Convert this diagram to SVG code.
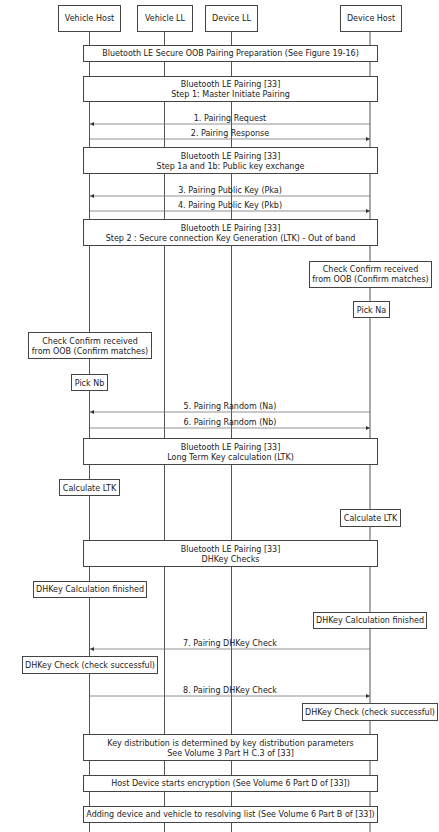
<svg xmlns="http://www.w3.org/2000/svg" width="439" height="832" viewBox="0 0 439 832">
<defs>
<marker id="ah" viewBox="0 0 6 6" refX="6" refY="3" markerWidth="4" markerHeight="4" orient="auto" markerUnits="userSpaceOnUse">
<path d="M0,0 L6,3 L0,6 z" fill="#333"/>
</marker>
<style>
text{font-family:"DejaVu Sans","Verdana",sans-serif;font-size:8px;fill:#222;text-anchor:middle;dominant-baseline:central}
.box{fill:#fff;stroke:#444;stroke-width:1}
.life{stroke:#555;stroke-width:1;fill:none}
.msg{stroke:#777;stroke-width:0.8;fill:none;marker-end:url(#ah)}
</style>
</defs>
<rect width="439" height="832" fill="#fff"/>
<g id="connectors">
<line class="life" x1="89.5" y1="31" x2="89.5" y2="832"/>
<line class="life" x1="164.5" y1="31" x2="164.5" y2="832"/>
<line class="life" x1="231.5" y1="31" x2="231.5" y2="832"/>
<line class="life" x1="370" y1="31" x2="370" y2="832"/>
<line class="msg" x1="370" y1="124" x2="90" y2="124"/>
<line class="msg" x1="90" y1="139" x2="370" y2="139"/>
<line class="msg" x1="370" y1="196" x2="90" y2="196"/>
<line class="msg" x1="90" y1="211" x2="370" y2="211"/>
<line class="msg" x1="370" y1="412" x2="90" y2="412"/>
<line class="msg" x1="90" y1="428" x2="370" y2="428"/>
<line class="msg" x1="370" y1="649" x2="90" y2="649"/>
<line class="msg" x1="90" y1="696" x2="370" y2="696"/>
<text x="230" y="118">1. Pairing Request</text>
<text x="230" y="133">2. Pairing Response</text>
<text x="230" y="190">3. Pairing Public Key (Pka)</text>
<text x="230" y="205">4. Pairing Public Key (Pkb)</text>
<text x="230" y="406">5. Pairing Random (Na)</text>
<text x="230" y="422">6. Pairing Random (Nb)</text>
<text x="230" y="643">7. Pairing DHKey Check</text>
<text x="230" y="690">8. Pairing DHKey Check</text>
</g>
<g id="vehicle-host"><rect class="box" x="58.5" y="5.5" width="62" height="26"/><text x="89.5" y="18">Vehicle Host</text></g>
<g id="vehicle-ll"><rect class="box" x="137.5" y="5.5" width="55" height="26"/><text x="165" y="18">Vehicle LL</text></g>
<g id="device-ll"><rect class="box" x="205.5" y="5.5" width="52" height="26"/><text x="231.5" y="18">Device LL</text></g>
<g id="device-host"><rect class="box" x="340.5" y="5.5" width="61" height="26"/><text x="371" y="18">Device Host</text></g>
<g id="oob-prep"><rect class="box" x="83.5" y="45.5" width="294" height="16"/><text x="230.5" y="53.5">Bluetooth LE Secure OOB Pairing Preparation (See Figure 19-16)</text></g>
<g id="step1"><rect class="box" x="83.5" y="76.5" width="294" height="25"/><text x="230.5" y="84">Bluetooth LE Pairing [33]</text><text x="230.5" y="94">Step 1: Master Initiate Pairing</text></g>
<g id="step1ab"><rect class="box" x="83.5" y="147.5" width="294" height="26"/><text x="230.5" y="156">Bluetooth LE Pairing [33]</text><text x="230.5" y="166">Step 1a and 1b: Public key exchange</text></g>
<g id="step2"><rect class="box" x="83.5" y="219.5" width="294" height="26"/><text x="230.5" y="228">Bluetooth LE Pairing [33]</text><text x="230.5" y="238">Step 2 : Secure connection Key Generation (LTK) - Out of band</text></g>
<g id="check-confirm-device"><rect class="box" x="309.5" y="261.5" width="122" height="26"/><text x="370.5" y="269.5">Check Confirm received</text><text x="370.5" y="279.5">from OOB (Confirm matches)</text></g>
<g id="pick-na"><rect class="box" x="353.5" y="301.5" width="36" height="16"/><text x="371.5" y="310">Pick Na</text></g>
<g id="check-confirm-vehicle"><rect class="box" x="28.5" y="332.5" width="123" height="26"/><text x="90" y="341.5">Check Confirm received</text><text x="90" y="351.5">from OOB (Confirm matches)</text></g>
<g id="pick-nb"><rect class="box" x="71.5" y="374.5" width="36" height="16"/><text x="89.5" y="383">Pick Nb</text></g>
<g id="ltk-calc"><rect class="box" x="83.5" y="438.5" width="294" height="26"/><text x="230.5" y="447">Bluetooth LE Pairing [33]</text><text x="230.5" y="457">Long Term Key calculation (LTK)</text></g>
<g id="calc-ltk-vehicle"><rect class="box" x="59.5" y="479.5" width="60" height="16"/><text x="89.5" y="488">Calculate LTK</text></g>
<g id="calc-ltk-device"><rect class="box" x="340.5" y="509.5" width="60" height="17"/><text x="370.5" y="518">Calculate LTK</text></g>
<g id="dhkey-checks"><rect class="box" x="83.5" y="540.5" width="294" height="26"/><text x="230.5" y="549">Bluetooth LE Pairing [33]</text><text x="230.5" y="559.5">DHKey Checks</text></g>
<g id="dhkey-finished-vehicle"><rect class="box" x="33.5" y="581.5" width="113" height="16"/><text x="90" y="589.5">DHKey Calculation finished</text></g>
<g id="dhkey-finished-device"><rect class="box" x="313.5" y="612.5" width="113" height="16"/><text x="370" y="620.5">DHKey Calculation finished</text></g>
<g id="dhkey-check-vehicle"><rect class="box" x="22.5" y="656.5" width="135" height="17"/><text x="90" y="665">DHKey Check (check successful)</text></g>
<g id="dhkey-check-device"><rect class="box" x="302.5" y="703.5" width="135" height="17"/><text x="370" y="712">DHKey Check (check successful)</text></g>
<g id="key-distribution"><rect class="box" x="83.5" y="734.5" width="294" height="26"/><text x="230.5" y="743.5">Key distribution is determined by key distribution parameters</text><text x="230.5" y="753">See Volume 3 Part H C.3 of [33]</text></g>
<g id="encryption"><rect class="box" x="83.5" y="775.5" width="294" height="16"/><text x="230.5" y="783.5">Host Device starts encryption (See Volume 6 Part D of [33])</text></g>
<g id="resolving-list"><rect class="box" x="83.5" y="806.5" width="294" height="16"/><text x="230.5" y="814.5">Adding device and vehicle to resolving list (See Volume 6 Part B of [33])</text></g>
</svg>
